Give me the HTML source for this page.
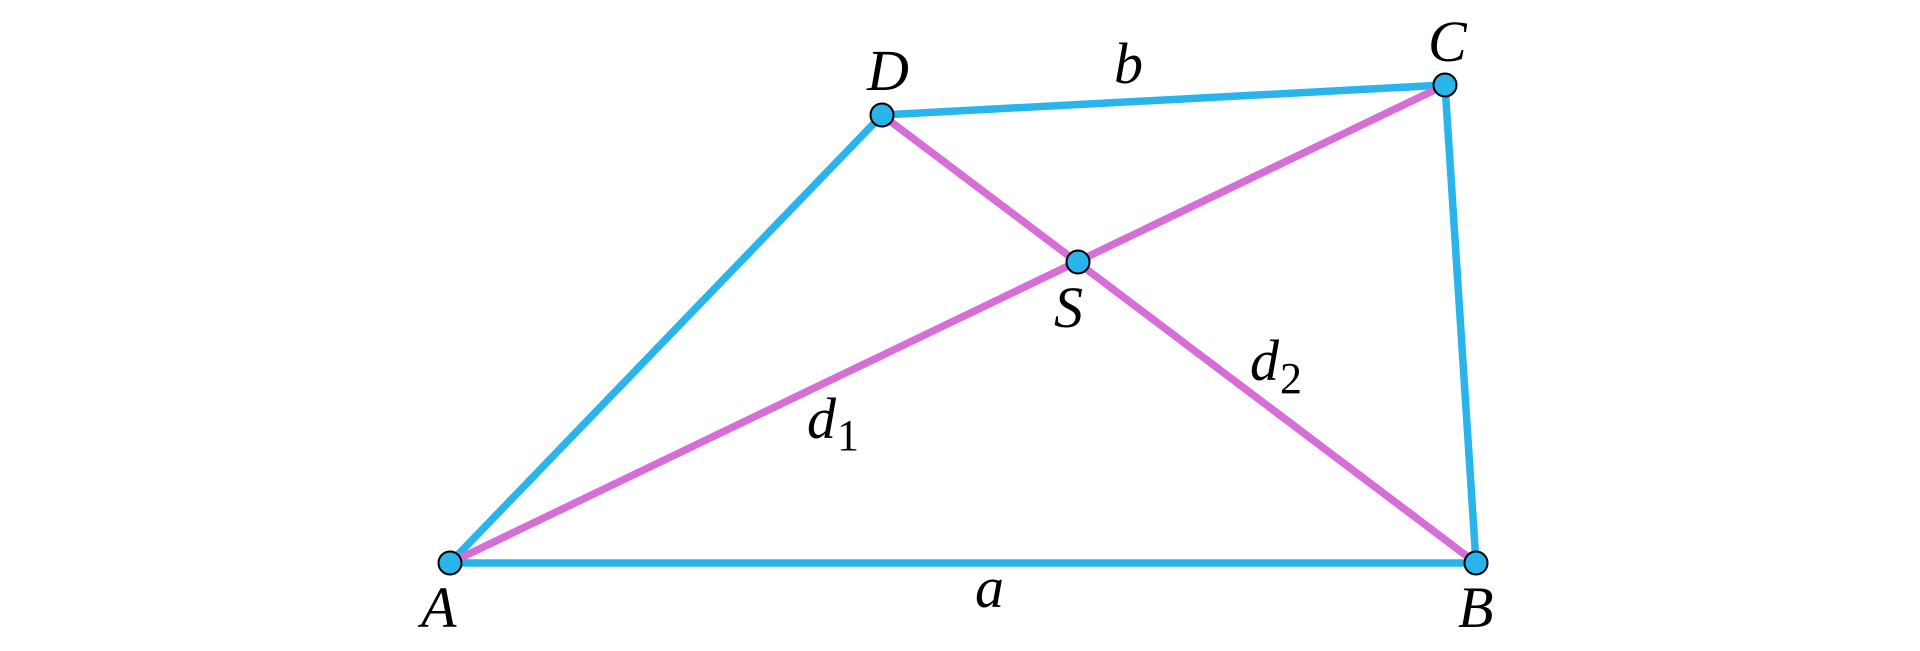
<!DOCTYPE html>
<html><head><style>body{margin:0;background:#fff}svg{display:block}text{font-family:"Liberation Serif",serif;font-style:italic;fill:#000}</style></head>
<body>
<svg width="1920" height="651" viewBox="0 0 1920 651">
<g stroke-width="7.5" stroke-linecap="round">
<line x1="450" y1="563" x2="882" y2="115" stroke="#29b5ec"/>
<line x1="450" y1="563" x2="1476" y2="563" stroke="#29b5ec"/>
<line x1="1476" y1="563" x2="1445" y2="85" stroke="#29b5ec"/>
<line x1="882" y1="115" x2="1445" y2="85" stroke="#29b5ec"/>
<line x1="450" y1="563" x2="1445" y2="85" stroke="#d76dd6"/>
<line x1="882" y1="115" x2="1476" y2="563" stroke="#d76dd6"/>
</g>
<g fill="#29b5ec" stroke="#000" stroke-width="2">
<circle cx="450" cy="563" r="11.5"/><circle cx="1476" cy="563" r="11.5"/>
<circle cx="1445" cy="85" r="11.5"/><circle cx="882" cy="115" r="11.5"/>
<circle cx="1078" cy="262" r="11.5"/>
</g>
<g font-size="58">
<text x="421" y="627">A</text>
<text x="1458" y="627">B</text>
<text x="1428" y="61">C</text>
<text x="867" y="90">D</text>
<text x="1054" y="327">S</text>
<text x="975" y="607">a</text>
<text x="1114" y="83">b</text>
<text x="807" y="438">d</text>
<text x="1250" y="380">d</text>
</g>
<g font-size="44">
<text x="837" y="450" style="font-style:normal">1</text>
<text x="1280" y="393" style="font-style:normal">2</text>
</g>
</svg>
</body></html>
